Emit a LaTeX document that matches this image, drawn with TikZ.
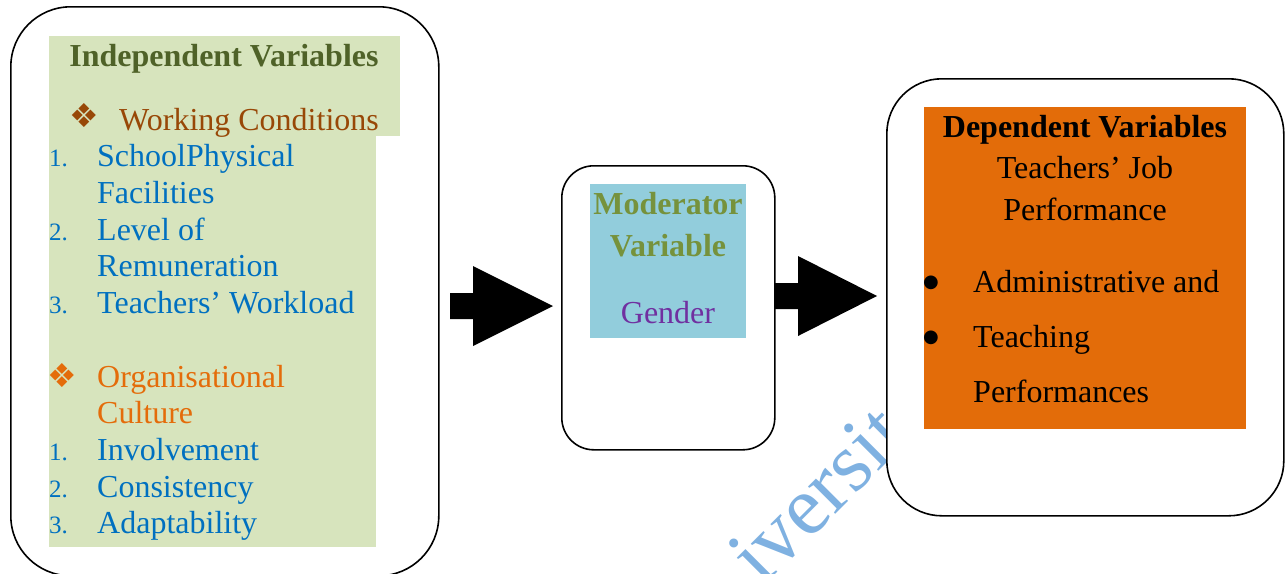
\documentclass[tikz,border=0pt]{standalone}
\usepackage{fontspec}
\setmainfont{Liberation Serif}
\newfontfamily\dejavu{DejaVu Sans}
\definecolor{greenfill}{HTML}{D7E4BD}
\definecolor{titleolive}{HTML}{4F6228}
\definecolor{wcbrown}{HTML}{984807}
\definecolor{itemblue}{HTML}{0070C0}
\definecolor{ocorange}{HTML}{E46C0A}
\definecolor{cyanfill}{HTML}{92CDDC}
\definecolor{modolive}{HTML}{76923C}
\definecolor{genpurple}{HTML}{7030A0}
\definecolor{depfill}{HTML}{E36C09}
\definecolor{wmblue}{HTML}{7FB1E1}
\tikzset{
  outerbox/.style={draw=black, line width=1.6pt, fill=white, anchor=north west, inner sep=0pt},
  fillbox/.style={anchor=north west, inner sep=0pt, minimum width=#1},
  txt/.style={inner sep=0pt, font=\fontsize{32}{36}\selectfont},
  btxt/.style={inner sep=0pt, font=\fontsize{32}{36}\selectfont\bfseries},
  num/.style={inner sep=0pt, anchor=base west, text=itemblue, font=\fontsize{25}{28}\selectfont},
  item/.style={txt, anchor=base west, text=itemblue},
  dia/.style={inner sep=0pt, anchor=center, font=\dejavu\fontsize{33}{36}\selectfont},
  bul/.style={inner sep=0pt, anchor=center, font=\dejavu\fontsize{18}{20}\selectfont},
  blockarrow/.style={fill=black}
}
\begin{document}
\begin{tikzpicture}[x=1pt,y=-1pt]
\useasboundingbox (0,0) rectangle (1285,573);
\begin{scope}
\clip (0,0) rectangle (1285,573);
% left box
\node[outerbox, rounded corners=60pt, minimum width=428pt, minimum height=569pt] (left) at (10,6) {};
\node[fillbox=351pt, minimum height=100pt, fill=greenfill] (gtop) at (49,36) {};
\node[fillbox=327pt, minimum height=411pt, fill=greenfill] (gbot) at (49,136) {};
\node[btxt, anchor=base, text=titleolive] (ivtitle) at (224,66) {Independent Variables};
\node[dia, text=wcbrown] (d1) at (84,116) {❖};
\node[txt, anchor=base west, text=wcbrown] (wc) at (119,130) {Working Conditions};
\node[num] (n1) at (49,166) {1.};
\node[item] (i1) at (97,166) {SchoolPhysical};
\node[item] (i1b) at (97,203) {Facilities};
\node[num] (n2) at (49,240) {2.};
\node[item] (i2) at (97,240) {Level of};
\node[item] (i2b) at (97,276) {Remuneration};
\node[num] (n3) at (49,313) {3.};
\node[item] (i3) at (97,313) {Teachers’ Workload};
\node[dia, text=ocorange] (d2) at (62,376) {❖};
\node[txt, anchor=base west, text=ocorange] (oc) at (97,387) {Organisational};
\node[txt, anchor=base west, text=ocorange] (ocb) at (97,423) {Culture};
\node[num] (m1) at (49,460) {1.};
\node[item] (j1) at (97,460) {Involvement};
\node[num] (m2) at (49,497) {2.};
\node[item] (j2) at (97,497) {Consistency};
\node[num] (m3) at (49,533) {3.};
\node[item] (j3) at (97,533) {Adaptability};
% arrows
\fill[blockarrow] (450,293) -- (473,293) -- (473,266) -- (553,306) -- (473,346) -- (473,319) -- (450,319) -- cycle;
% middle box
\node[outerbox, rounded corners=32pt, minimum width=213pt, minimum height=284pt] (mid) at (561,165) {};
\node[fillbox=156pt, minimum height=154pt, fill=cyanfill] (cy) at (590,184) {};
\node[btxt, anchor=base, text=modolive] (mod1) at (668,214) {Moderator};
\node[btxt, anchor=base, text=modolive] (mod2) at (668,256) {Variable};
\node[txt, anchor=base, text=genpurple] (gen) at (668,323) {Gender};
\fill[blockarrow] (774,283) -- (798,283) -- (798,256) -- (877,296) -- (798,336) -- (798,309) -- (774,309) -- cycle;
% watermark
\node[inner sep=0pt, anchor=base west, rotate=45, text=wmblue, font=\fontsize{84}{90}\selectfont] (wm) at (762,588) {iversit};
% right box
\node[outerbox, rounded corners=55pt, minimum width=397pt, minimum height=437pt] (right) at (886,78) {};
\node[fillbox=322pt, minimum height=322pt, fill=depfill] (or) at (924,107) {};
\node[btxt, anchor=base] (dv) at (1085,137) {Dependent Variables};
\node[txt, anchor=base] (tj) at (1085,178) {Teachers’ Job};
\node[txt, anchor=base] (pf) at (1085,220) {Performance};
\node[bul] (b1) at (931,283) {●};
\node[txt, anchor=base west] (ad) at (973,292) {Administrative and};
\node[bul] (b2) at (931,338) {●};
\node[txt, anchor=base west] (te) at (973,347) {Teaching};
\node[txt, anchor=base west] (pfs) at (973,402) {Performances};
\end{scope}
\end{tikzpicture}
\end{document}
